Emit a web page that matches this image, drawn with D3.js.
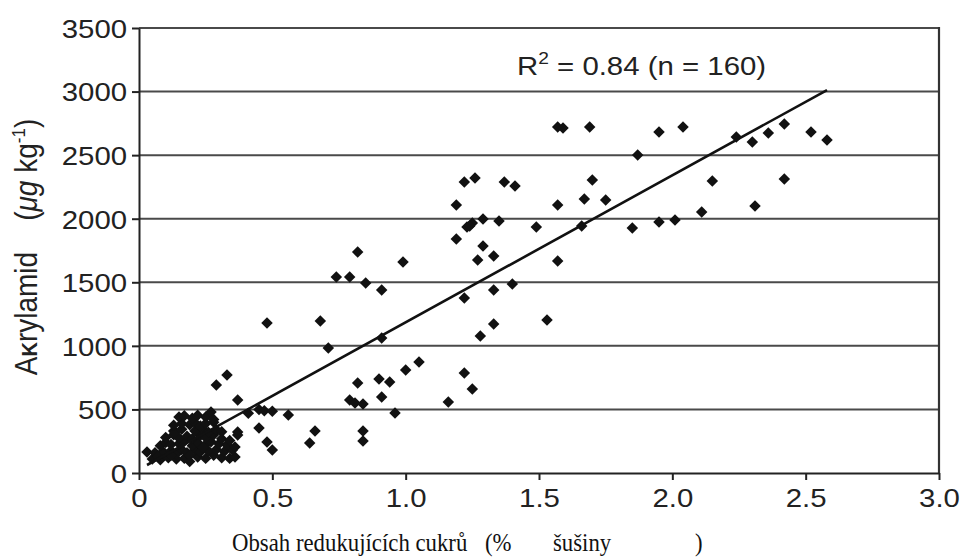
<!DOCTYPE html>
<html>
<head>
<meta charset="utf-8">
<script src="https://cdnjs.cloudflare.com/ajax/libs/d3/7.8.5/d3.min.js"></script>
<style>
  body { margin: 0; background: #fff; }
  svg { display: block; }
  .axis path, .axis line { stroke: #222; stroke-width: 2px; }
</style>
</head>
<body>
<svg id="chart" width="960" height="557"></svg>
<script>
// reducing sugars (% dry matter) and acrylamide (ug/kg)
var sugar = [
  0.48, 0.64, 0.66, 0.68, 0.71, 0.74, 0.79, 0.82, 0.85, 0.91, 0.99, 0.91, 0.82, 0.79, 0.81, 0.84,
  0.91, 0.90, 0.94, 0.96, 1.00, 1.05, 0.84, 0.84, 1.16, 1.22, 1.25, 1.22, 1.28, 1.33, 1.33, 1.40,
  1.27, 1.33, 1.29, 1.19, 1.23, 1.25, 1.24, 1.29, 1.35, 1.19, 1.22, 1.26, 1.37, 1.41, 1.49, 1.53,
  1.57, 1.59, 1.69, 1.95, 2.04, 1.87, 1.70, 1.57, 1.67, 1.75, 1.66, 1.57, 1.85, 1.95, 2.01, 2.11,
  2.15, 2.24, 2.30, 2.36, 2.42, 2.52, 2.58, 2.31, 2.42,
  0.33, 0.29, 0.37, 0.03, 0.56, 0.41, 0.45, 0.47, 0.50, 0.45, 0.48, 0.50, 0.37, 0.37,
  0.05, 0.08, 0.11, 0.14, 0.17, 0.19, 0.22, 0.25, 0.28, 0.31, 0.34, 0.36,
  0.06, 0.09, 0.12, 0.14, 0.16, 0.18, 0.21, 0.23, 0.26, 0.29, 0.32, 0.35,
  0.08, 0.10, 0.12, 0.15, 0.17, 0.20, 0.22, 0.25, 0.27, 0.30, 0.33, 0.36,
  0.10, 0.13, 0.15, 0.18, 0.20, 0.23, 0.25, 0.28, 0.31, 0.34,
  0.13, 0.135, 0.16, 0.21, 0.24, 0.26, 0.29, 0.31,
  0.13, 0.16, 0.19, 0.21, 0.23, 0.25, 0.28,
  0.15, 0.17, 0.20, 0.22, 0.25, 0.27, 0.28,
  0.07, 0.12, 0.19, 0.24
];
var acrylamide = [
  1180, 236, 330, 1195, 983, 1541, 1541, 1738, 1494, 1439, 1659, 1062, 708, 574, 550, 543,
  598, 739, 716, 472, 810, 873, 330, 252, 558, 786, 661, 1376, 1078, 1172, 1439, 1486,
  1675, 1707, 1785, 1840, 1935, 1966, 1943, 1998, 1982, 2108, 2289, 2320, 2289, 2257, 1935, 1203,
  2721, 2713, 2721, 2682, 2721, 2501, 2304, 2108, 2155, 2147, 1943, 1667, 1927, 1974, 1990, 2053,
  2297, 2643, 2603, 2674, 2745, 2682, 2619, 2100, 2312,
  771, 692, 574, 165, 456, 470, 500, 490, 485, 354, 244, 181, 322, 299,
  110, 105, 120, 110, 115, 90, 125, 115, 140, 120, 115, 125,
  160, 170, 175, 150, 185, 160, 180, 165, 175, 185, 170, 180,
  215, 240, 225, 230, 250, 215, 240, 225, 245, 230, 220, 205,
  280, 300, 275, 290, 270, 295, 280, 300, 270, 255,
  330, 320, 345, 330, 345, 320, 340, 325,
  375, 390, 380, 395, 370, 390, 400,
  440, 450, 430, 455, 440, 480, 420,
  130, 140, 140, 200
];
// regression line end points
var fitX = [0.03, 2.58];
var fitY = [63, 3012];

var xTicks = [0, 0.5, 1.0, 1.5, 2.0, 2.5, 3.0];
var xTickLabels = ["0", "0.5", "1.0", "1.5", "2.0", "2.5", "3.0"];
var yTicks = [0, 500, 1000, 1500, 2000, 2500, 3000, 3500];

var svg = d3.select("#chart");
var x = d3.scaleLinear().domain([0, 3]).range([139, 939]);
var y = d3.scaleLinear().domain([0, 3500]).range([473, 28]);
var sans = "'Liberation Sans', Arial, sans-serif";
var stretch = "scale(1.13,1)"; // the scanned figure is a bit wide

// horizontal grid
svg.append("g")
  .selectAll("line")
  .data(yTicks.slice(1))
  .enter().append("line")
    .attr("x1", x(0)).attr("x2", x(3))
    .attr("y1", function(d) { return y(d); })
    .attr("y2", function(d) { return y(d); })
    .attr("stroke", "#4a4a4a")
    .attr("stroke-width", 2);

// right border
svg.append("line")
  .attr("x1", x(3)).attr("x2", x(3))
  .attr("y1", y(3500) - 1).attr("y2", y(0))
  .attr("stroke", "#333").attr("stroke-width", 2.2);

var xAxis = svg.append("g")
    .attr("class", "axis")
    .attr("transform", "translate(0," + y(0) + ")")
    .call(d3.axisBottom(x).tickValues(xTicks).tickSize(7).tickSizeOuter(0)
      .tickFormat(function(d, i) { return xTickLabels[i]; }));
xAxis.selectAll("text")
    .attr("y", 13).attr("dy", "0.8em").attr("transform", stretch)
    .style("font-family", sans).style("font-size", "26px").attr("fill", "#222");

var yAxis = svg.append("g")
    .attr("class", "axis")
    .attr("transform", "translate(" + x(0) + ",0)")
    .call(d3.axisLeft(y).tickValues(yTicks).tickSize(7).tickSizeOuter(0).tickFormat(d3.format("d")));
yAxis.selectAll("text")
    .attr("x", -10.5).attr("dy", "0.36em").attr("transform", stretch)
    .style("font-family", sans).style("font-size", "26px").attr("fill", "#222");

// points
var pts = sugar.map(function(s, i) { return [s, acrylamide[i]]; });
svg.append("g")
  .selectAll("path")
  .data(pts)
  .enter().append("path")
    .attr("d", d3.symbol().type(d3.symbolSquare).size(66))
    .attr("transform", function(d) { return "translate(" + x(d[0]) + "," + y(d[1]) + ") rotate(45)"; })
    .attr("fill", "#111");

// fit line
svg.append("line")
  .attr("x1", x(fitX[0])).attr("y1", y(fitY[0]))
  .attr("x2", x(fitX[1])).attr("y2", y(fitY[1]))
  .attr("stroke", "#111").attr("stroke-width", 2.6);

// R2 label
var r2 = svg.append("text")
  .attr("transform", "translate(517,75) " + stretch)
  .style("font-family", sans)
  .style("font-size", "26px")
  .attr("fill", "#222");
r2.append("tspan").text("R");
r2.append("tspan").attr("dy", -11).style("font-size", "17px").text("2");
r2.append("tspan").attr("dy", 11).text(" = 0.84 (n = 160)");

// y title
var yt = svg.append("text")
  .attr("transform", "translate(37,247) rotate(-90) scale(1,1.1)")
  .attr("text-anchor", "middle")
  .style("font-family", sans)
  .style("font-size", "28px")
  .style("white-space", "pre")
  .attr("fill", "#222");
yt.append("tspan").text("A");
yt.append("tspan").style("font-weight", "bold").style("font-size", "20px").text("K");
yt.append("tspan").text("rylamid    (");
yt.append("tspan").style("font-style", "italic").text("\u03bcg");
yt.append("tspan").text(" kg");
yt.append("tspan").attr("dy", -11).style("font-size", "17px").text("-1");
yt.append("tspan").attr("dy", 11).text(")");

// x title
var xTitle = [
  {t: "Obsah redukujících cukrů", x: 232},
  {t: "(%", x: 485},
  {t: "šušiny", x: 553},
  {t: ")", x: 695}
];
svg.selectAll(".xt")
  .data(xTitle)
  .enter().append("text")
    .attr("class", "xt")
    .attr("transform", function(d) { return "translate(" + d.x + ",551) scale(0.95,1.08)"; })
    .style("font-family", "'Liberation Serif', 'Times New Roman', serif")
    .style("font-size", "24px")
    .attr("fill", "#111")
    .text(function(d) { return d.t; });
</script>
</body>
</html>
